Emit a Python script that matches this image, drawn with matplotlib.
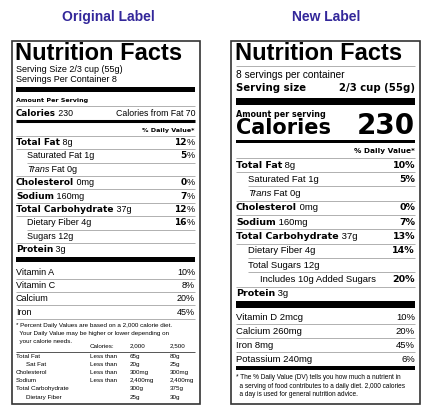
import matplotlib
matplotlib.use("Agg")
import matplotlib.pyplot as plt

plt.rcParams['font.family'] = ['Liberation Sans', 'DejaVu Sans']

titles = ["Original Label", "New Label"]

# Original label nutrient rows: (bold part, regular part, percent, indent level)
orig_rows = [("Total Fat", " 8g", "12%", 0), ("", "Saturated Fat 1g", "5%", 1),
             ("", "Trans Fat 0g", "", 1), ("Cholesterol", " 0mg", "0%", 0),
             ("Sodium", " 160mg", "7%", 0), ("Total Carbohydrate", " 37g", "12%", 0),
             ("", "Dietary Fiber 4g", "16%", 1), ("", "Sugars 12g", "", 1),
             ("Protein", " 3g", "", 0)]
orig_vit = [("Vitamin A", "10%"), ("Vitamin C", "8%"), ("Calcium", "20%"), ("Iron", "45%")]
orig_table = [("Total Fat", "Less than", "65g", "80g"), ("Sat Fat", "Less than", "20g", "25g"),
              ("Cholesterol", "Less than", "300mg", "300mg"), ("Sodium", "Less than", "2,400mg", "2,400mg"),
              ("Total Carbohydrate", "", "300g", "375g"), ("Dietary Fiber", "", "25g", "30g")]

new_rows = [("Total Fat", " 8g", "10%", 0), ("", "Saturated Fat 1g", "5%", 1),
            ("", "Trans Fat 0g", "", 1), ("Cholesterol", " 0mg", "0%", 0),
            ("Sodium", " 160mg", "7%", 0), ("Total Carbohydrate", " 37g", "13%", 0),
            ("", "Dietary Fiber 4g", "14%", 1), ("", "Total Sugars 12g", "", 1),
            ("", "Includes 10g Added Sugars", "20%", 2), ("Protein", " 3g", "", 0)]
new_vit = [("Vitamin D 2mcg", "10%"), ("Calcium 260mg", "20%"), ("Iron 8mg", "45%"), ("Potassium 240mg", "6%")]

fig = plt.figure(figsize=(4.33, 4.19), dpi=100)
ax = fig.add_axes([0, 0, 1, 1])
ax.set_xlim(0, 433); ax.set_ylim(419, 0); ax.axis('off')

GRAY = '#b0b0b0'
TC = '#33279a'

def hl(x0, x1, y, lw=0.7, c=GRAY):
    ax.plot([x0, x1], [y, y], color=c, lw=lw, solid_capstyle='butt')

def bar(x0, x1, y0, y1):
    ax.add_patch(plt.Rectangle((x0, y0), x1 - x0, y1 - y0, color='black', lw=0))

def width(t):
    fig.canvas.draw()
    return t.get_window_extent().width

def row(x, y, b, r, fs):
    if b:
        t = ax.text(x, y, b, fontsize=fs, fontweight='bold', va='center', ha='left', family='DejaVu Sans')
        x = x + width(t)
    if r.startswith("Trans"):
        t = ax.text(x, y, "Trans", fontsize=fs, style='italic', va='center')
        x = x + width(t)
        r = r[5:]
    ax.text(x, y, r, fontsize=fs, va='center', ha='left')

def pct(xr, y, p, fs):
    t = ax.text(xr, y, "%", fontsize=fs, ha='right', va='center')
    w = width(t)
    ax.text(xr - w, y, p[:-1], fontsize=fs, fontweight='bold', family='DejaVu Sans', ha='right', va='center')

# ---------- titles ----------
ax.text(108, 17, titles[0], fontsize=10, fontweight='bold', color=TC, ha='center', va='center')
ax.text(326, 17, titles[1], fontsize=10, fontweight='bold', color=TC, ha='center', va='center')

# ---------- original ----------
L0, L1 = 16, 195
ax.add_patch(plt.Rectangle((12, 41), 188, 363, fill=False, ec='#333', lw=1.2))
ax.text(L0 - 1, 53, "Nutrition Facts", fontsize=17, fontweight='bold', va='center', ha='left')
ax.text(L0, 69, "Serving Size 2/3 cup (55g)", fontsize=6.5, va='center')
ax.text(L0, 79, "Servings Per Container 8", fontsize=6.5, va='center')
bar(L0, L1, 87, 92)
ax.text(L0, 100, "Amount Per Serving", fontsize=4.6, fontweight='bold', family='DejaVu Sans', va='center')
hl(L0, L1, 106)
row(L0, 113, "Calories", " 230", 6.3)
ax.text(L1, 113, "Calories from Fat 70", fontsize=6.3, ha='right', va='center')
hl(L0, L1, 121, lw=2.2, c='black')
ax.text(L1, 130, "% Daily Value*", fontsize=4.6, fontweight='bold', family='DejaVu Sans', ha='right', va='center')
hl(L0, L1, 136)
y = 142.5
for i, (b, r, p, ind) in enumerate(orig_rows):
    x = L0 + 11 * ind
    row(x, y, b, r, 6.5)
    if p:
        pct(L1, y, p, 6.5)
    if i < len(orig_rows) - 1:
        nind = orig_rows[i + 1][3]
        hl(L0 + 11 * (1 if nind and ind else 0), L1, y + 6.7)
    y += 13.4
bar(L0, L1, 257, 262)
y = 272
for i, (n, p) in enumerate(orig_vit):
    ax.text(L0, y, n, fontsize=6.5, va='center')
    ax.text(L1, y, p, fontsize=6.5, va='center', ha='right')
    hl(L0, L1, y + 6.7)
    y += 13.4
fn = ["* Percent Daily Values are based on a 2,000 calorie diet.",
      "  Your Daily Value may be higher or lower depending on",
      "  your calorie needs."]
for j, s in enumerate(fn):
    ax.text(L0, 325 + 8.3 * j, s, fontsize=4.5, va='center')
ax.text(90, 346, "Calories:", fontsize=4.5, va='center')
ax.text(130, 346, "2,000", fontsize=4.5, va='center')
ax.text(170, 346, "2,500", fontsize=4.5, va='center')
hl(L0, L1, 352, lw=0.7, c='#555')
for j, (a, b, c, d) in enumerate(orig_table):
    yy = 356.5 + 8.1 * j
    ax.text(L0 + (10 if a in ("Sat Fat", "Dietary Fiber") else 0), yy, a, fontsize=4.5, va='center')
    ax.text(90, yy, b, fontsize=4.5, va='center')
    ax.text(130, yy, c, fontsize=4.5, va='center')
    ax.text(170, yy, d, fontsize=4.5, va='center')

# ---------- new ----------
R0, R1 = 236, 415
ax.add_patch(plt.Rectangle((231, 41), 189, 363, fill=False, ec='#333', lw=1.2))
ax.text(R0 - 1, 53, "Nutrition Facts", fontsize=17, fontweight='bold', va='center', ha='left')
hl(R0, R1, 66)
ax.text(R0, 75, "8 servings per container", fontsize=7.3, va='center')
ax.text(R0, 88, "Serving size", fontsize=7.3, fontweight='bold', family='DejaVu Sans', va='center')
ax.text(R1, 88, "2/3 cup (55g)", fontsize=7.3, fontweight='bold', family='DejaVu Sans', va='center', ha='right')
bar(R0, R1, 98, 105)
ax.text(R0, 114, "Amount per serving", fontsize=5.8, fontweight='bold', family='DejaVu Sans', va='center')
ax.text(R0, 128, "Calories", fontsize=15, fontweight='heavy', family='DejaVu Sans', va='center')
ax.text(R1, 126, "230", fontsize=20, fontweight='heavy', family='DejaVu Sans', va='center', ha='right')
bar(R0, R1, 140, 143)
ax.text(R1, 151, "% Daily Value*", fontsize=5.3, fontweight='bold', family='DejaVu Sans', ha='right', va='center')
hl(R0, R1, 158)
y = 165
for i, (b, r, p, ind) in enumerate(new_rows):
    x = R0 + 12 * ind
    row(x, y, b, r, 6.8)
    if p:
        ax.text(R1, y, p, fontsize=6.8, fontweight='bold', family='DejaVu Sans', ha='right', va='center')
    if i < len(new_rows) - 1:
        nind = new_rows[i + 1][3]
        hl(R0 + 12 * min(ind, nind), R1, y + 7.2)
    y += 14.3
bar(R0, R1, 301, 308)
y = 317
for i, (n, p) in enumerate(new_vit):
    ax.text(R0, y, n, fontsize=6.8, va='center')
    ax.text(R1, y, p, fontsize=6.8, va='center', ha='right')
    if i < len(new_vit) - 1:
        hl(R0, R1, y + 7)
    y += 14
bar(R0, R1, 366, 370)
fn2 = ["* The % Daily Value (DV) tells you how much a nutrient in",
       "  a serving of food contributes to a daily diet. 2,000 calories",
       "  a day is used for general nutrition advice."]
for j, s in enumerate(fn2):
    ax.text(R0, 377.5 + 8.7 * j, s, fontsize=4.7, va='center')

fig.savefig("out.png", dpi=100)
